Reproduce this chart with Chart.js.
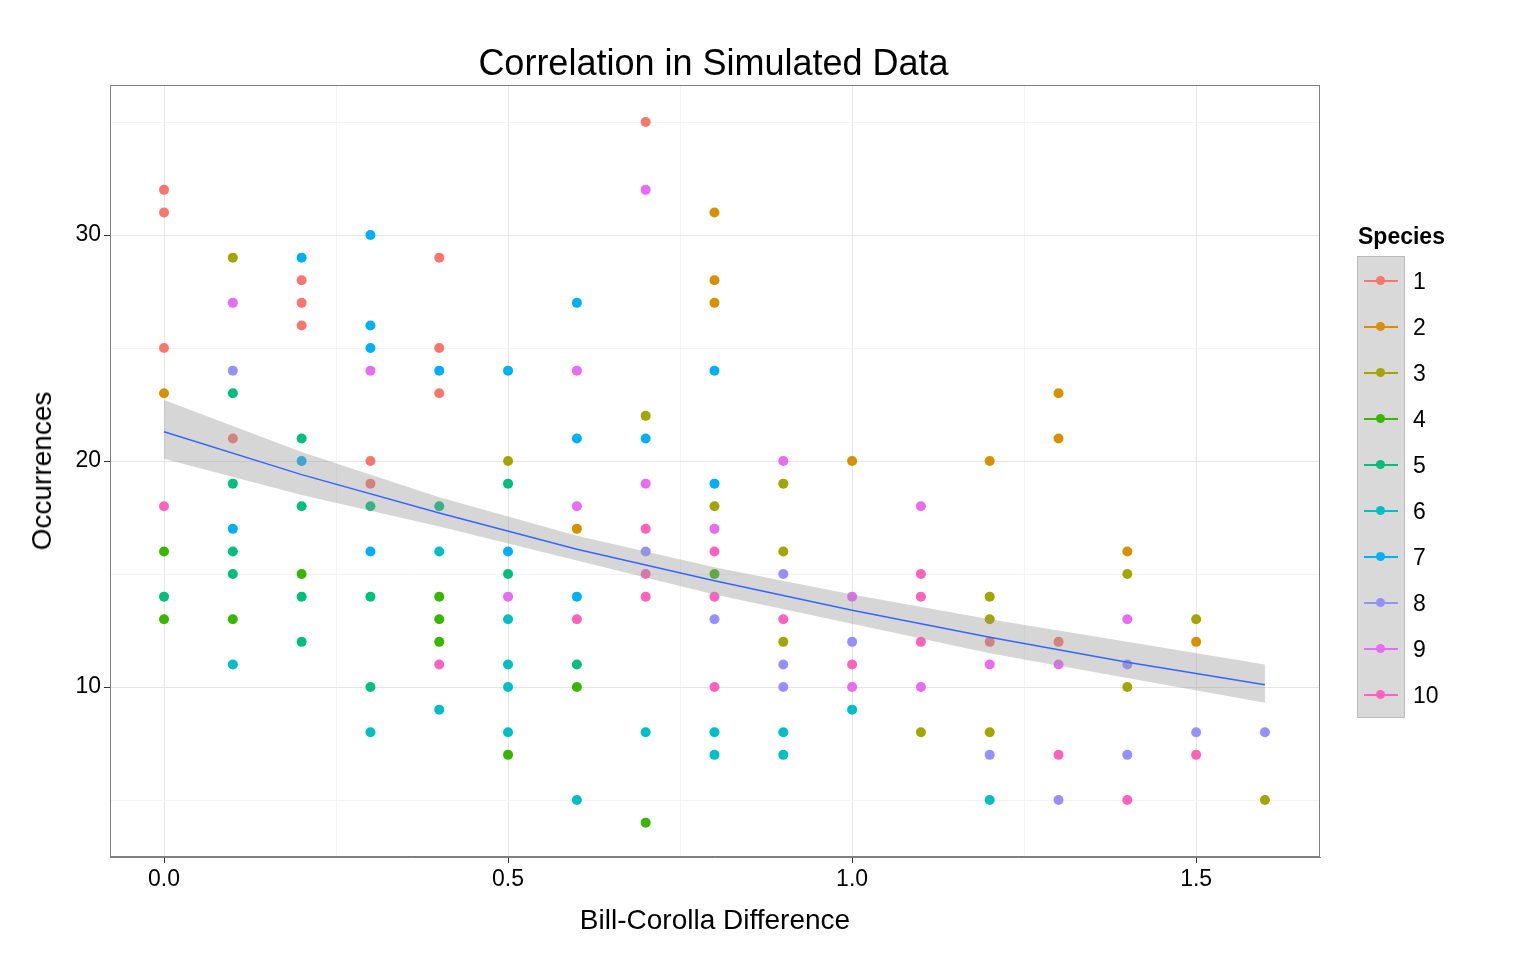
<!DOCTYPE html>
<html><head><meta charset="utf-8">
<script src="https://cdn.jsdelivr.net/npm/chart.js@4/dist/chart.umd.min.js"></script>
<style>
body{margin:0;background:#fff;font-family:Arial,"Liberation Sans",sans-serif}
#wrap{position:absolute;left:0;top:0;width:1536px;height:960px}
.t{position:absolute;color:#000;white-space:nowrap}
#legend{position:absolute;left:1357px;top:256px;width:46px;background:#d9d9d9;border:1px solid #bbb}
.li{position:relative;height:46px}
.li .ln{position:absolute;left:6px;top:23px;width:34px;height:1.5px}
.li .dt{position:absolute;left:18px;top:19px;width:9px;height:9px;border-radius:50%}
.li .lb{position:absolute;left:55px;top:11px;font-size:23px}
</style></head><body>
<div id="wrap"><canvas id="c" width="1536" height="960"></canvas></div>
<div class="t" style="left:0;width:1427px;text-align:center;top:42px;font-size:36px">Correlation in Simulated Data</div>
<div class="t" style="left:110px;width:1210px;text-align:center;top:904px;font-size:28px">Bill-Corolla Difference</div>
<div class="t" style="left:42px;top:471px;font-size:28px;transform:translate(-50%,-50%) rotate(-90deg)">Occurrences</div>
<div class="t" style="left:1358px;top:223px;font-size:23px;font-weight:bold">Species</div>
<div id="legend"></div>
<script>
const colors = ["#F8766D","#D89000","#A3A500","#39B600","#00BF7D","#00BFC4","#00B0F6","#9590FF","#E76BF3","#FF62BC"];
// points per species: [x, y]
const species1 = [[0,32],[0,31],[0,25],[0.1,21],[0.2,28],[0.2,27],[0.2,26],[0.3,20],[0.3,19],[0.4,29],[0.4,25],[0.4,23],[0.7,35],[1.2,12],[1.3,12]];
const species2 = [[0,23],[0.6,17],[0.8,31],[0.8,28],[0.8,27],[1.0,20],[1.2,20],[1.3,23],[1.3,21],[1.4,16],[1.5,12]];
const species3 = [[0.1,29],[0.5,20],[0.7,22],[0.8,18],[0.9,19],[0.9,16],[0.9,12],[1.1,8],[1.2,14],[1.2,13],[1.2,8],[1.4,15],[1.4,10],[1.5,13],[1.6,5]];
const species4 = [[0,16],[0,13],[0.1,13],[0.2,15],[0.4,14],[0.4,13],[0.4,12],[0.5,7],[0.6,10],[0.7,4],[0.8,15]];
const species5 = [[0,14],[0.1,23],[0.1,19],[0.1,16],[0.1,15],[0.2,21],[0.2,18],[0.2,14],[0.2,12],[0.3,18],[0.3,14],[0.3,10],[0.4,18],[0.5,19],[0.5,15],[0.6,11]];
const species6 = [[0.1,11],[0.3,8],[0.4,16],[0.4,9],[0.5,13],[0.5,11],[0.5,10],[0.5,8],[0.6,5],[0.7,8],[0.8,8],[0.8,7],[0.9,8],[0.9,7],[1.0,9],[1.2,5]];
const species7 = [[0.1,17],[0.2,29],[0.2,20],[0.3,30],[0.3,26],[0.3,25],[0.3,16],[0.4,24],[0.5,24],[0.5,16],[0.6,27],[0.6,21],[0.6,14],[0.7,21],[0.8,24],[0.8,19]];
const species8 = [[0.1,24],[0.7,16],[0.8,13],[0.9,15],[0.9,11],[0.9,10],[1.0,12],[1.2,7],[1.3,5],[1.4,11],[1.4,7],[1.5,8],[1.6,8]];
const species9 = [[0.1,27],[0.3,24],[0.5,14],[0.6,24],[0.6,18],[0.7,32],[0.7,19],[0.8,17],[0.9,20],[1.0,14],[1.0,10],[1.1,18],[1.1,10],[1.2,11],[1.3,11],[1.4,13]];
const species10 = [[0,18],[0.4,11],[0.6,13],[0.7,17],[0.7,15],[0.7,14],[0.8,16],[0.8,14],[0.8,10],[0.9,13],[1.0,11],[1.1,15],[1.1,14],[1.1,12],[1.3,7],[1.4,5],[1.5,7]];
const speciesPoints = [species1,species2,species3,species4,species5,species6,species7,species8,species9,species10];
// smoother fit and confidence band
const fitX = [0,0.2,0.4,0.6,0.8,1.0,1.2,1.4,1.6];
const fitY = [21.3,19.4,17.7,16.1,14.7,13.4,12.2,11.1,10.1];
const fitLo = [20.1,18.5,17.1,15.6,14.1,12.8,11.5,10.4,9.3];
const fitHi = [22.7,20.4,18.4,16.7,15.3,14.1,13.0,12.0,11.0];

const datasets = speciesPoints.map((pts, i) => ({
  label: String(i + 1),
  data: pts.map(p => ({x: p[0], y: p[1]})),
  backgroundColor: colors[i], borderColor: colors[i],
  pointRadius: 5, borderWidth: 0, order: 10
}));
datasets.push({data: fitX.map((x, i) => ({x, y: fitLo[i]})), showLine: true, pointRadius: 0, borderWidth: 0, borderColor: "rgba(0,0,0,0)", order: 2});
datasets.push({data: fitX.map((x, i) => ({x, y: fitHi[i]})), showLine: true, pointRadius: 0, borderWidth: 0, borderColor: "rgba(0,0,0,0)", fill: "-1", backgroundColor: "rgba(153,153,153,0.4)", order: 2});
datasets.push({data: fitX.map((x, i) => ({x, y: fitY[i]})), showLine: true, pointRadius: 0, borderWidth: 1.5, borderColor: "#3366FF", order: 1});

const isMajor = (v, step) => Math.abs(v / step - Math.round(v / step)) < 1e-6;
new Chart(document.getElementById("c"), {
  type: "scatter",
  data: {datasets},
  options: {
    responsive: false, animation: false,
    layout: {padding: {left: 0, top: 85, right: 216, bottom: 0}},
    plugins: {legend: {display: false}, tooltip: {enabled: false}},
    scales: {
      x: {
        min: -0.0785, max: 1.68,
        afterFit: s => { s.height = 103; },
        afterBuildTicks: s => { s.ticks = [0,0.25,0.5,0.75,1,1.25,1.5].map(v => ({value: v})); },
        border: {color: "#7f7f7f"},
        grid: {color: c => isMajor(c.tick.value, 0.5) ? "#e5e5e5" : "#f3f3f3",
               tickColor: c => isMajor(c.tick.value, 0.5) ? "#333" : "rgba(0,0,0,0)", tickLength: 6},
        ticks: {color: "#000", font: {size: 23, family: "Arial"}, maxRotation: 0, autoSkip: false,
                callback: v => isMajor(v, 0.5) ? v.toFixed(1) : ""}
      },
      y: {
        min: 2.48, max: 36.64,
        afterFit: s => { s.width = 110; },
        afterBuildTicks: s => { s.ticks = [5,10,15,20,25,30,35].map(v => ({value: v})); },
        border: {color: "#7f7f7f"},
        grid: {color: c => isMajor(c.tick.value, 10) ? "#e5e5e5" : "#f3f3f3",
               tickColor: c => isMajor(c.tick.value, 10) ? "#333" : "rgba(0,0,0,0)", tickLength: 6},
        ticks: {color: "#000", font: {size: 23, family: "Arial"}, autoSkip: false,
                callback: v => isMajor(v, 10) ? String(v) : ""}
      }
    }
  },
  plugins: [{id: "frame", afterDraw(ch) {
    const a = ch.chartArea, g = ch.ctx;
    g.save(); g.strokeStyle = "#7f7f7f"; g.lineWidth = 1;
    g.strokeRect(a.left + 0.5, a.top + 0.5, a.right - a.left - 1, a.bottom - a.top - 1);
    g.restore();
  }}]
});

const leg = document.getElementById("legend");
colors.forEach((c, i) => {
  leg.insertAdjacentHTML("beforeend",
    `<div class="li"><div class="ln" style="background:${c}"></div><div class="dt" style="background:${c}"></div><div class="lb">${i + 1}</div></div>`);
});
</script>
</body></html>
